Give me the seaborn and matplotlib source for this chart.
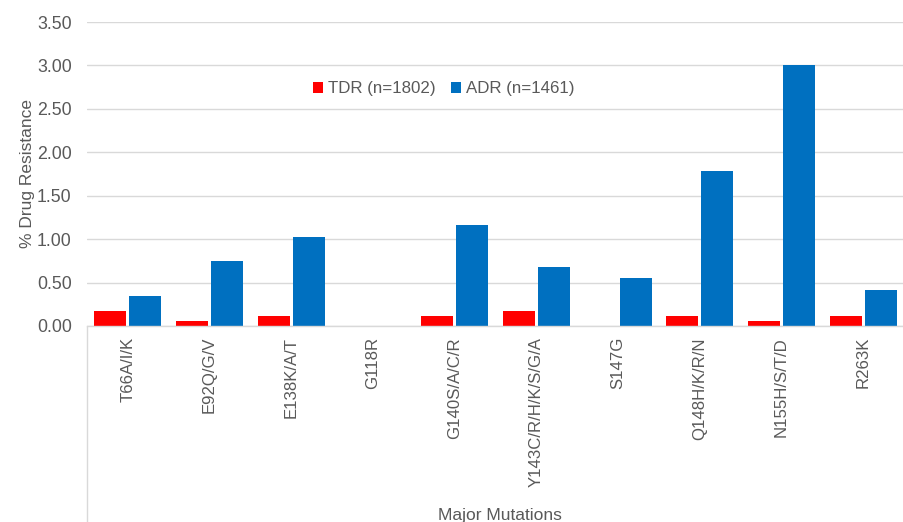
import matplotlib
matplotlib.use("Agg")
import matplotlib.pyplot as plt
from matplotlib.lines import Line2D
import seaborn as sns
import pandas as pd

mutations = ["T66A/I/K", "E92Q/G/V", "E138K/A/T", "G118R", "G140S/A/C/R",
             "Y143C/R/H/K/S/G/A", "S147G", "Q148H/K/R/N", "N155H/S/T/D", "R263K"]
tdr = [0.17, 0.06, 0.11, 0.0, 0.11, 0.17, 0.0, 0.11, 0.06, 0.11]
adr = [0.34, 0.75, 1.03, 0.0, 1.16, 0.68, 0.55, 1.78, 3.01, 0.41]
series = ["TDR (n=1802)", "ADR (n=1461)"]
colors = ["#FF0000", "#0070C0"]
yticks = [0.0, 0.5, 1.0, 1.5, 2.0, 2.5, 3.0, 3.5]

df = pd.DataFrame({
    "Mutation": mutations * 2,
    "Value": tdr + adr,
    "Group": [series[0]] * len(mutations) + [series[1]] * len(mutations),
})

sns.set_theme(style="white")
plt.rcParams["font.family"] = ["Liberation Sans", "DejaVu Sans"]

fig = plt.figure(figsize=(9.04, 5.22), dpi=100)
ax = fig.add_axes([87 / 904, 1 - 326 / 522, 817 / 904, (326 - 22) / 522])

sns.barplot(data=df, x="Mutation", y="Value", hue="Group", order=mutations,
            hue_order=series, palette=colors, width=0.86, gap=0.09,
            saturation=1, edgecolor="none", ax=ax)

ax.set_ylim(0, 3.5)
ax.set_xlim(-0.5, len(mutations) - 0.5)
ax.set_yticks(yticks)
ax.set_yticklabels([f"{t:.2f}" for t in yticks], color="#595959", fontsize=12.8)
ax.yaxis.grid(True, color="#d9d9d9", linewidth=1)
ax.set_axisbelow(True)
for s in ["top", "right", "left"]:
    ax.spines[s].set_visible(False)
ax.spines["bottom"].set_color("#d9d9d9")
ax.spines["bottom"].set_linewidth(1)
ax.tick_params(axis="y", length=0, pad=11)
ax.tick_params(axis="x", length=0, pad=8)
plt.setp(ax.get_xticklabels(), rotation=90, color="#595959", fontsize=12.1,
         va="top", ha="center")

ax.set_xlabel("Major Mutations", color="#595959", fontsize=12.5)
ax.xaxis.set_label_coords(0.505, -0.6)
ax.set_ylabel("% Drug Resistance", color="#595959", fontsize=12.5, labelpad=1)

# category axis divider running down through the label area
fig.add_artist(Line2D([87 / 904, 87 / 904], [0, 1 - 326 / 522],
                      color="#d9d9d9", linewidth=1, transform=fig.transFigure))

leg = ax.legend(loc="center", bbox_to_anchor=(444 / 904, 1 - 89 / 522),
                bbox_transform=fig.transFigure, ncol=2, frameon=False,
                fontsize=12.2, handlelength=0.6, handleheight=0.6,
                handletextpad=0.3, columnspacing=0.9)
for t in leg.get_texts():
    t.set_color("#595959")

fig.savefig("out.png", dpi=100)
